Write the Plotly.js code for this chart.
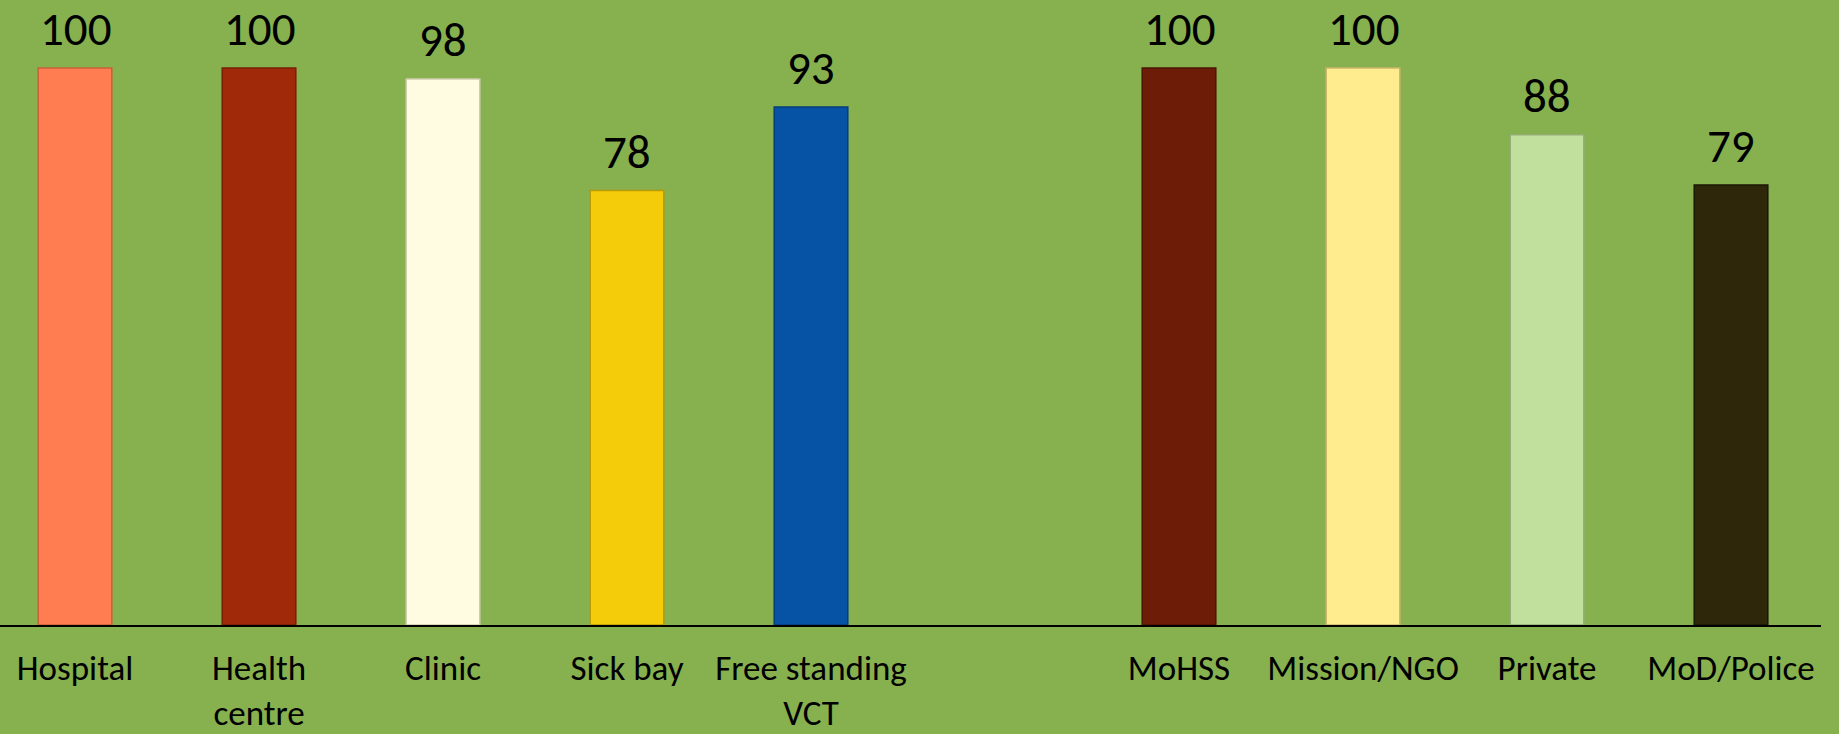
<!DOCTYPE html>
<html>
<head>
<meta charset="utf-8">
<script src="https://cdn.plot.ly/plotly-3.0.1.min.js"></script>
<style>html,body{margin:0;padding:0;background:#87B04E;}#chart{width:1839px;height:734px;}</style>
</head>
<body>
<div id="chart"></div>
<script>
const categories = ["Hospital", "Health<br>centre", "Clinic", "Sick bay", "Free standing<br>VCT", " ", "MoHSS", "Mission/NGO", "Private", "MoD/Police"];
const values = [100, 100, 98, 78, 93, null, 100, 100, 88, 79];
const barColors = ["#FF7D50", "#A0290A", "#FFFCE2", "#F4CC0A", "#0652A4", "rgba(0,0,0,0)", "#6D1C08", "#FFEC8F", "#C1DF9D", "#2F2709"];
const lineColors = ["#C9603A", "#7A1F07", "#CFCBB0", "#B89A08", "#043E7C", "rgba(0,0,0,0)", "#4E1405", "#CBB76A", "#93AD76", "#1C1705"];

const FONT = "Carlito, Lato, 'Liberation Sans', sans-serif";

const trace = {
  type: "bar",
  x: categories,
  y: values,
  marker: { color: barColors, line: { color: lineColors, width: 1.5 } },
  hoverinfo: "x+y"
};

const annotations = categories.map((c, i) => values[i] == null ? null : ({
  x: c, y: values[i], xref: "x", yref: "y",
  text: String(values[i]), showarrow: false,
  yanchor: "bottom", yshift: 8,
  font: { family: FONT, size: 47, color: "#000000" }
})).filter(a => a);

const layout = {
  width: 1839, height: 734,
  paper_bgcolor: "#87B04E", plot_bgcolor: "#87B04E",
  margin: { l: 0, r: 18, t: 0, b: 109 },
  bargap: 0.6,
  showlegend: false,
  xaxis: {
    type: "category",
    range: [-0.4076, 9.489],
    showline: true, linecolor: "#000000", linewidth: 1.5,
    showgrid: false, zeroline: false, ticks: "",
    ticklabelstandoff: 11,
    tickfont: { family: FONT, size: 35, color: "#000000" }
  },
  yaxis: {
    range: [0, 112.2],
    showgrid: false, zeroline: false, showticklabels: false, ticks: "", showline: false
  },
  annotations: annotations
};

Plotly.newPlot("chart", [trace], layout, { displayModeBar: false, staticPlot: true });
</script>
</body>
</html>
